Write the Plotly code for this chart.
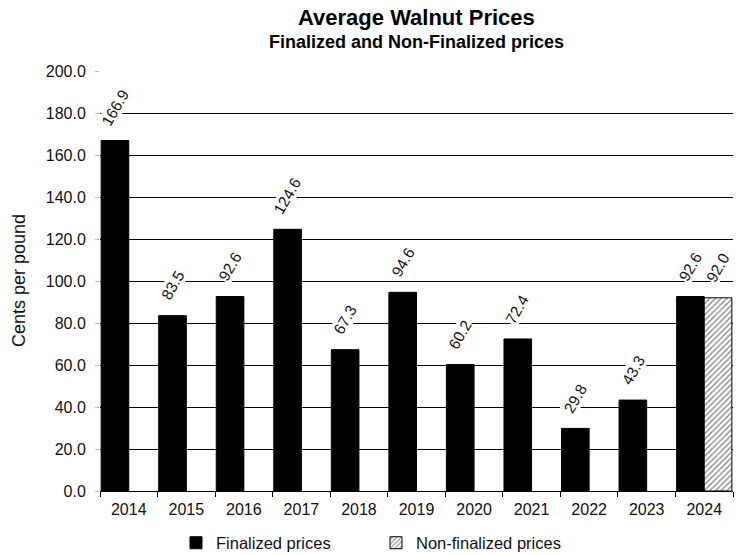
import plotly.graph_objects as go

years = ["2014", "2015", "2016", "2017", "2018", "2019", "2020", "2021", "2022", "2023", "2024"]
finalized = [166.9, 83.5, 92.6, 124.6, 67.3, 94.6, 60.2, 72.4, 29.8, 43.3, 92.6]
non_finalized = [None, None, None, None, None, None, None, None, None, None, 92.0]
y_ticks = [0, 20, 40, 60, 80, 100, 120, 140, 160, 180, 200]

FONT = "Liberation Sans, Arial, sans-serif"
BARGAP = 0.04
PLOT_W = 749 - 100 - 16
CAT_W = PLOT_W / len(years)
BAR_OFF = CAT_W * (1 - BARGAP) / 4  # centre offset of each bar in a group of two

fig = go.Figure()
fig.add_trace(go.Bar(
    x=years, y=finalized, name="Finalized prices",
    marker=dict(color="black", line=dict(color="black", width=1)),
))
fig.add_trace(go.Bar(
    x=years, y=non_finalized, name="Non-finalized prices",
    marker=dict(color="white", line=dict(color="black", width=1),
                pattern=dict(shape="/", fgcolor="black", bgcolor="white", size=4, solidity=0.3)),
))

annotations = []
for series, shift in ((finalized, -BAR_OFF), (non_finalized, BAR_OFF)):
    for idx, v in enumerate(series):
        if v is None:
            continue
        label = f"{v:.1f}"
        annotations.append(dict(
            x=idx, y=v, xref="x", yref="y", text=label, textangle=-60,
            xanchor="center", yanchor="middle", xshift=shift,
            yshift=30 + 3.5 * (len(label) - 4),
            showarrow=False, bgcolor="white", borderpad=0,
            font=dict(size=15.5, family=FONT, color="#111"),
        ))

annotations += [
    dict(text="<b>Average Walnut Prices</b>", xref="paper", yref="paper",
         x=0.5, y=(491 - 17) / 420, xanchor="center", yanchor="middle",
         showarrow=False, font=dict(size=22, family=FONT, color="black")),
    dict(text="<b>Finalized and Non-Finalized prices</b>", xref="paper", yref="paper",
         x=0.5, y=(491 - 42) / 420, xanchor="center", yanchor="middle",
         showarrow=False, font=dict(size=18, family=FONT, color="black")),
    dict(text="Cents per pound", xref="paper", yref="paper",
         x=-(100 - 19) / PLOT_W, y=0.5, xanchor="center", yanchor="middle", textangle=-90,
         showarrow=False, font=dict(size=18, family=FONT, color="#111")),
]

fig.update_layout(
    width=749, height=555,
    margin=dict(l=100, r=16, t=71, b=64, autoexpand=False),
    paper_bgcolor="white", plot_bgcolor="white",
    barmode="group", bargap=BARGAP, bargroupgap=0,
    font=dict(family=FONT, size=16, color="#111"),
    showlegend=True,
    legend=dict(orientation="h", x=0.502, xanchor="center", xref="container",
                y=(491 - 543) / 420, yanchor="middle", yref="paper",
                font=dict(size=16.5, family=FONT, color="#111"),
                entrywidth=155, entrywidthmode="pixels"),
    annotations=annotations,
)
fig.update_xaxes(
    type="category", categoryorder="array", categoryarray=years,
    range=[-0.5, len(years) - 0.5],
    showline=True, linecolor="black", linewidth=1,
    ticks="outside", tickson="boundaries", ticklen=5, tickcolor="black",
    tickfont=dict(size=16, family=FONT, color="#111"), automargin=False, tickangle=0,
    ticklabelstandoff=4,
)
fig.update_yaxes(
    range=[0, 200], tickvals=y_ticks, tickformat=".1f",
    showgrid=True, gridcolor="black", gridwidth=1,
    zeroline=False, showline=False,
    ticks="outside", ticklen=4, tickcolor="#bbb",
    tickfont=dict(size=16, family=FONT, color="#111"), automargin=False,
    ticklabelstandoff=6,
)

fig.write_html("out.html", config={"displayModeBar": False},
               post_script="document.body.style.margin='0';")
